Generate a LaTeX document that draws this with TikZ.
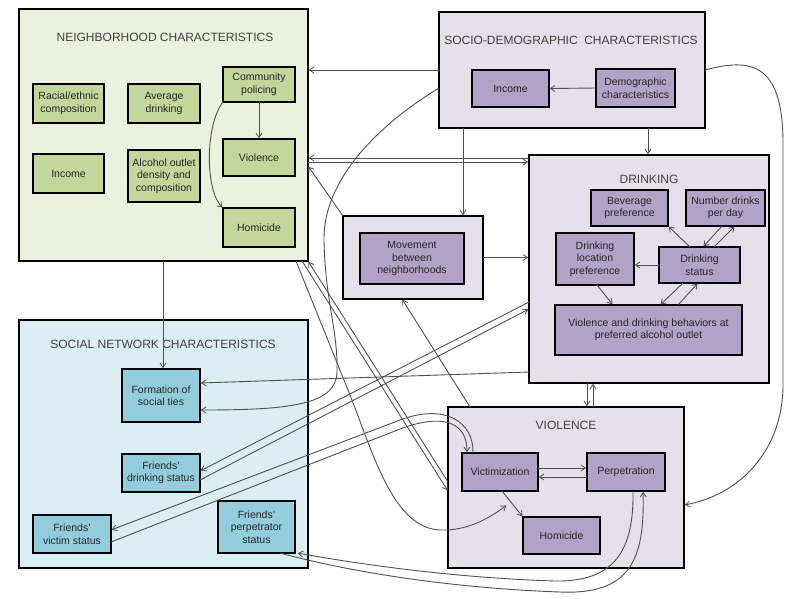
\documentclass[tikz,border=0pt]{standalone}
\usepackage{fontspec}
\setmainfont{Liberation Sans}
\usetikzlibrary{arrows.meta}

\definecolor{nbOuter}{HTML}{EBF1DE}
\definecolor{nbInner}{HTML}{C3D69B}
\definecolor{snOuter}{HTML}{DBEEF4}
\definecolor{snInner}{HTML}{93CDDD}
\definecolor{puOuter}{HTML}{E6E0EC}
\definecolor{puInner}{HTML}{B3A2C7}
\definecolor{boxtext}{HTML}{262626}
\definecolor{titlegray}{HTML}{404040}
\definecolor{linegray}{HTML}{505050}

\tikzset{
  outerbox/.style={draw=black, line width=2.6pt, anchor=north west, inner sep=0pt, outer sep=0pt},
  innerbox/.style={draw=black, line width=2.4pt, anchor=north west, inner sep=1pt, outer sep=0pt,
    align=center, font=\fontsize{10.5}{12.5}\selectfont, text=boxtext},
  grouptitle/.style={font=\fontsize{12}{14}\selectfont, text=titlegray, inner sep=0pt},
  conn/.style={draw=linegray, line width=0.9pt, shorten >=0.8pt,
    -{Straight Barb[length=4.5pt,width=6pt,line width=0.8pt]}},
}

\begin{document}
\begin{tikzpicture}[x=1pt, y=-1pt]
\useasboundingbox (0,0) rectangle (785,598);

% group frames
\node[outerbox, fill=nbOuter, minimum width=289pt, minimum height=252pt] (nb) at (19,9) {};
\node[outerbox, fill=puOuter, minimum width=266pt, minimum height=116pt] (sd) at (439,12) {};
\node[outerbox, fill=puOuter, minimum width=240pt, minimum height=228pt] (dr) at (529,155) {};
\node[outerbox, fill=puOuter, minimum width=140pt, minimum height=83pt] (mvo) at (343,216) {};
\node[outerbox, fill=snOuter, minimum width=289pt, minimum height=248pt] (sn) at (19,320) {};
\node[outerbox, fill=puOuter, minimum width=236pt, minimum height=161pt] (vi) at (448,407) {};

% group titles
\node[grouptitle] (nbT) at (165,37) {NEIGHBORHOOD CHARACTERISTICS};
\node[grouptitle] (sdT) at (571,40) {SOCIO-DEMOGRAPHIC\ \ CHARACTERISTICS};
\node[grouptitle] (drT) at (649,179) {DRINKING};
\node[grouptitle] (snT) at (163,344) {SOCIAL NETWORK CHARACTERISTICS};
\node[grouptitle] (viT) at (566,425) {VIOLENCE};

% neighborhood factors
\node[innerbox, fill=nbInner, minimum width=71pt, minimum height=39pt] (nbRace) at (33,84) {Racial/ethnic\\composition};
\node[innerbox, fill=nbInner, minimum width=72pt, minimum height=39pt] (nbAvg) at (128,84) {Average\\drinking};
\node[innerbox, fill=nbInner, minimum width=72pt, minimum height=35pt] (nbPol) at (223,67) {Community\\policing};
\node[innerbox, fill=nbInner, minimum width=71pt, minimum height=39pt] (nbInc) at (33,154) {Income};
\node[innerbox, fill=nbInner, minimum width=72pt, minimum height=52pt] (nbAlc) at (128,150) {Alcohol outlet\\density and\\composition};
\node[innerbox, fill=nbInner, minimum width=72pt, minimum height=37pt] (nbVio) at (223,139) {Violence};
\node[innerbox, fill=nbInner, minimum width=72pt, minimum height=39pt] (nbHom) at (223,208) {Homicide};

% socio-demographic factors
\node[innerbox, fill=puInner, minimum width=77pt, minimum height=37pt] (sdInc) at (472,70) {Income};
\node[innerbox, fill=puInner, minimum width=79pt, minimum height=38pt] (sdDem) at (596,69) {Demographic\\characteristics};

% drinking factors
\node[innerbox, fill=puInner, minimum width=77pt, minimum height=36pt] (drBev) at (591,190) {Beverage\\preference};
\node[innerbox, fill=puInner, minimum width=79pt, minimum height=36pt] (drNum) at (686,190) {Number drinks\\per day};
\node[innerbox, fill=puInner, minimum width=78pt, minimum height=52pt] (drLoc) at (556,233) {Drinking\\location\\preference};
\node[innerbox, fill=puInner, minimum width=81pt, minimum height=36pt] (drSta) at (659,247) {Drinking\\status};
\node[innerbox, fill=puInner, minimum width=187pt, minimum height=50pt] (drOut) at (555,305) {Violence and drinking behaviors at\\preferred alcohol outlet};

% movement
\node[innerbox, fill=puInner, minimum width=104pt, minimum height=51pt] (mvi) at (360,233) {Movement\\between\\neighborhoods};

% social network factors
\node[innerbox, fill=snInner, minimum width=78pt, minimum height=53pt] (snFor) at (122,369) {Formation of\\social ties};
\node[innerbox, fill=snInner, minimum width=78pt, minimum height=38pt] (snDrk) at (122,454) {Friends'\\drinking status};
\node[innerbox, fill=snInner, minimum width=78pt, minimum height=38pt] (snVic) at (33,515) {Friends'\\victim status};
\node[innerbox, fill=snInner, minimum width=77pt, minimum height=52pt] (snPer) at (218,501) {Friends'\\perpetrator\\status};

% violence factors
\node[innerbox, fill=puInner, minimum width=76pt, minimum height=38pt] (viVic) at (462,453) {Victimization};
\node[innerbox, fill=puInner, minimum width=78pt, minimum height=38pt] (viPer) at (587,453) {Perpetration};
\node[innerbox, fill=puInner, minimum width=77pt, minimum height=37pt] (viHom) at (523,517) {Homicide};

% links inside the groups
\draw[conn] (nbPol.south) -- (nbVio.north);
\draw[conn] (nbPol.south west) .. controls (205,125) and (205,190) .. (nbHom.north west);
\draw[conn] (sdDem.west) -- (sdInc.east);
\draw[conn] (drSta.west) -- (drLoc.east|-drSta.west);
\draw[conn] (drSta.north-|690,0) -- (drBev.south east);
\draw[conn] (drNum.south-|722,0) -- (drSta.north-|703,0);
\draw[conn] (drSta.north-|714,0) -- (drNum.south-|735,0);
\draw[conn] (drLoc.south-|597,0) -- (drOut.north-|613,0);
\draw[conn] (drSta.south-|683,0) -- (drOut.north-|660,0);
\draw[conn] (drOut.north-|678,0) -- (drSta.south-|698,0);
\draw[conn] (viVic.east|-0,468) -- (viPer.west|-0,468);
\draw[conn] (viPer.west|-0,477) -- (viVic.east|-0,477);
\draw[conn] (viVic.south-|502,0) -- (viHom.north west);

% links between the groups
\draw[conn] (sd.west|-0,70) -- (nb.east|-0,70);
\draw[conn] (sd.south-|648,0) -- (dr.north-|648,0);
\draw[conn] (sd.south-|463,0) -- (mvo.north-|463,0);
\draw[conn] (dr.west|-0,158) -- (nb.east|-0,158);
\draw[conn] (nb.east|-0,162) -- (dr.west|-0,162);
\draw[conn] (mvo.east) -- (dr.west|-mvo.east);
\draw[conn] (mvo.north west) -- (nb.east|-0,166);
\draw[conn] (nb.south-|163,0) -- (snFor.north-|163,0);
\draw[conn] (dr.west|-0,372) -- (snFor.east|-0,383);
\draw[conn] (sd.west|-0,88) .. controls (378,125) and (323,180) .. (324,240)
  .. controls (325,300) and (338,330) .. (337,372)
  .. controls (336,405) and (290,410) .. (snFor.east|-0,410);
\draw[conn] (dr.south-|587,0) -- (vi.north-|587,0);
\draw[conn] (vi.north-|593,0) -- (dr.south-|593,0);
\draw[conn] (vi.north-|470,0) -- (mvo.south-|402,0);
\draw[conn] (vi.west|-0,482) -- (nb.south east);
\draw[conn] (nb.south-|302,0) -- (vi.west|-0,491);
\draw[conn] (nb.south-|296,0) -- (352,400)
  .. controls (375,460) and (395,528) .. (440,530)
  .. controls (470,531) and (492,516) .. ([xshift=7pt,yshift=-14pt]viVic.south);
\draw[conn] (sd.east|-0,70) .. controls (750,58) and (782,62) .. (783,140) -- (783,385)
  .. controls (783,450) and (740,495) .. (vi.east|-0,505);
\draw[conn] (dr.west|-0,302) -- (snDrk.east|-0,471);
\draw[conn] (snDrk.east|-0,480) -- (dr.west|-0,309);
\draw[conn] (viVic.north-|473,0) .. controls (474,422) and (445,403) .. (400,420) -- (snVic.east|-0,530);
\draw[conn] (snVic.east|-0,542) -- (400,429) .. controls (440,414) and (467,420) .. (viVic.north-|467,0);
\draw[conn] (viPer.south-|633,0) .. controls (634,550) and (615,582) .. (555,581)
  .. controls (460,578) and (370,566) .. ([xshift=2pt]snPer.south east);
\draw[conn] (snPer.south-|280,0) .. controls (350,572) and (450,588) .. (560,592)
  .. controls (630,595) and (645,560) .. (viPer.south-|643,0);
\end{tikzpicture}
\end{document}
